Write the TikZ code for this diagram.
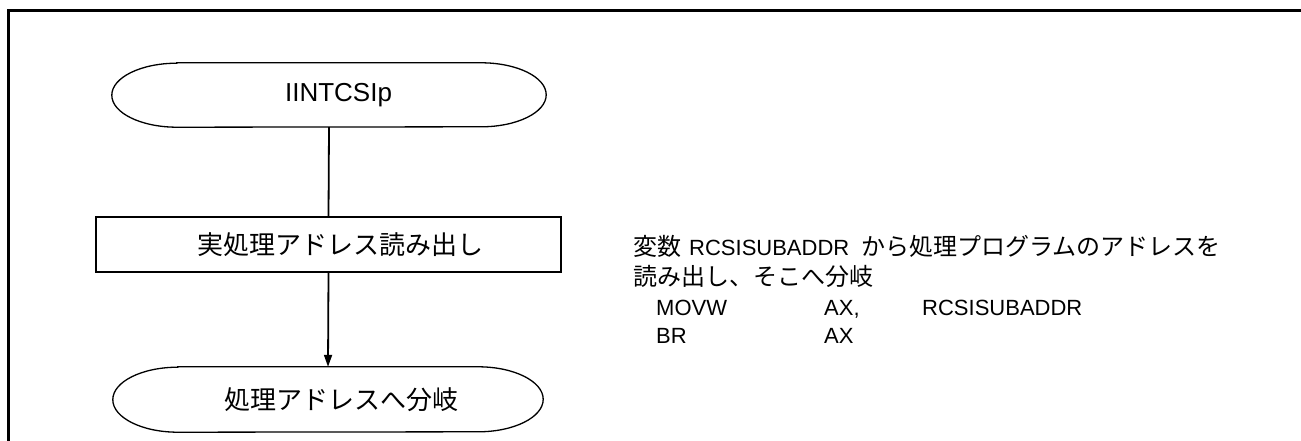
\documentclass[tikz,border=0pt]{standalone}
\usepackage{fontspec}
\setmainfont{Liberation Sans}
\newfontfamily\jp{Noto Sans CJK JP}
\usetikzlibrary{arrows.meta}
\begin{document}
\begin{tikzpicture}[x=1pt,y=-1pt,
  shapeline/.style={line width=1.3pt},
  conn/.style={line width=1.8pt},
  frameline/.style={line width=2.3pt},
  lefttext/.style={font=\fontsize{26}{30}\selectfont, inner sep=0pt},
  termnode/.style={lefttext, minimum width=#1, minimum height=64pt},
  procbox/.style={lefttext, draw, shapeline, minimum width=465pt, minimum height=55pt},
  rtext/.style={font=\fontsize{22}{25}\selectfont, inner sep=0pt, anchor=base west}
]
\useasboundingbox (0,0) rectangle (1301,441);
% frame (top and left edges)
\draw[frameline] (8.5,441) -- (8.5,10.5) -- (1301,10.5);

% top terminal
\node[termnode=434pt] (t1) at (329,95) {\hspace*{19pt}IINTCSIp};
\draw[shapeline] ([xshift=65pt]t1.north west) -- ([xshift=-65pt]t1.north east)
  arc[start angle=90,end angle=-90,x radius=65pt,y radius=32pt]
  -- ([xshift=65pt]t1.south west)
  arc[start angle=270,end angle=90,x radius=65pt,y radius=32pt] -- cycle;

% process box
\node[procbox] (proc) at (328.5,244.5) {\hspace*{23pt}\jp 実処理アドレス読み出し};

% bottom terminal
\node[termnode=430pt, minimum height=65pt] (t2) at (328,399.5) {\hspace*{26pt}\jp 処理アドレスへ分岐};
\draw[shapeline] ([xshift=65pt]t2.north west) -- ([xshift=-65pt]t2.north east)
  arc[start angle=90,end angle=-90,x radius=65pt,y radius=32.5pt]
  -- ([xshift=65pt]t2.south west)
  arc[start angle=270,end angle=90,x radius=65pt,y radius=32.5pt] -- cycle;

% connectors
\draw[conn] (t1.south) -- (proc.north);
\draw[conn, -{Triangle[length=12pt,width=8pt]}] (proc.south) -- (t2.north);

% right-hand description
\node[rtext] (l1) at (633,255) {{\jp\fontsize{24}{25}\selectfont 変数}\hspace{8pt}RCSISUBADDR\hspace{12pt}{\jp\fontsize{24}{25}\selectfont から処理プログラムのアドレスを}};
\node[rtext] (l2) at (633,285) {\jp\fontsize{24}{25}\selectfont 読み出し、そこへ分岐};
\node[rtext] (m1) at (656,315) {MOVW};
\node[rtext] (m2) at (824,315) {AX,};
\node[rtext] (m3) at (922,315) {RCSISUBADDR};
\node[rtext] (b1) at (656,343) {BR};
\node[rtext] (b2) at (824,343) {AX};
\end{tikzpicture}
\end{document}
